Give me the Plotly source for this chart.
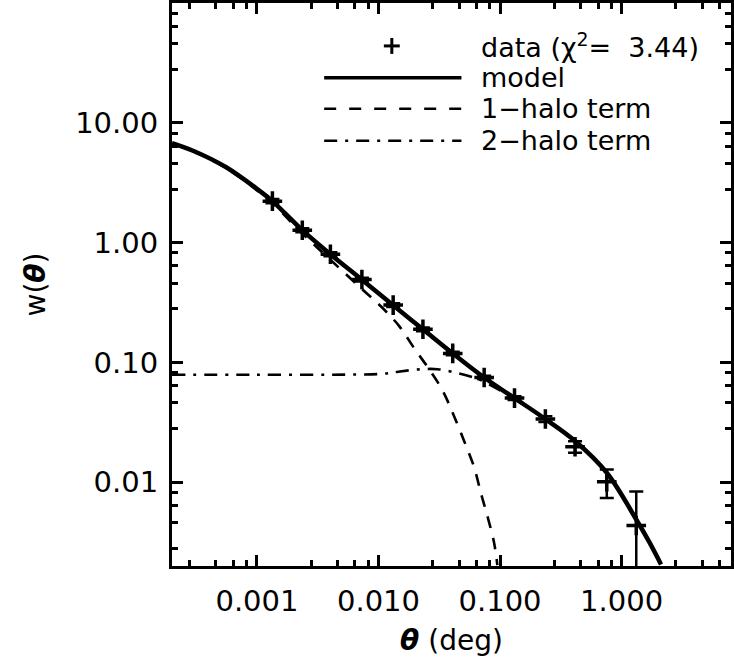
import plotly.graph_objects as go

# ---------------- data ----------------
theta_data = [0.00134, 0.00236, 0.00402, 0.0073, 0.0132, 0.0232, 0.0408,
              0.0740, 0.1315, 0.236, 0.414, 0.755, 1.32]
w_data = [2.22, 1.27, 0.80, 0.492, 0.301, 0.189, 0.119,
          0.0748, 0.0504, 0.0337, 0.0198, 0.0101, 0.00436]
w_err = [0.09, 0.05, 0.03, 0.018, 0.011, 0.007, 0.004,
         0.0025, 0.0017, 0.0018, 0.0022, 0.0027, 0.0040]

theta_model = [0.0002, 0.000298, 0.000558, 0.001044, 0.00134, 0.00236, 0.00402,
               0.0073, 0.0132, 0.0232, 0.0408, 0.074, 0.1315, 0.236, 0.414,
               0.755, 1.32, 1.70, 2.11]
w_model = [6.78, 5.85, 4.26, 2.72, 2.22, 1.27, 0.80,
           0.49, 0.30, 0.189, 0.119, 0.0748, 0.0504, 0.0337, 0.0221,
           0.0120, 0.00489, 0.00313, 0.00206]

theta_1h = [0.0002, 0.000298, 0.000558, 0.001044, 0.00134, 0.00236, 0.00402,
            0.0073, 0.0106, 0.0148, 0.0196, 0.0263, 0.0338, 0.0408, 0.0508,
            0.0614, 0.0695, 0.0787, 0.0893, 0.095]
w_1h = [6.70, 5.77, 4.18, 2.64, 2.14, 1.19, 0.72,
        0.41, 0.29, 0.201, 0.132, 0.0866, 0.0579, 0.0378, 0.0219,
        0.0132, 0.00816, 0.00521, 0.00313, 0.00203]

theta_2h = [0.0002, 0.001, 0.00569, 0.01055, 0.01452, 0.0218, 0.0307,
            0.0448, 0.0628, 0.074, 0.1315, 0.236, 0.414, 0.755, 1.32, 1.70, 2.11]
w_2h = [0.079, 0.079, 0.0792, 0.0802, 0.0836, 0.0876, 0.0878,
        0.0813, 0.0739, 0.0690, 0.0495, 0.0335, 0.0220, 0.0120, 0.00489, 0.00313, 0.00206]

x_tickvals = [0.001, 0.01, 0.1, 1.0]
x_ticktext = ["0.001", "0.010", "0.100", "1.000"]
y_tickvals = [0.01, 0.1, 1.0, 10.0]
y_ticktext = ["0.01", "0.10", "1.00", "10.00"]

legend_labels = ["data (\u03c7<sup>2</sup>=\u00a0 3.44)", "model", "1\u2212halo term", "2\u2212halo term"]

# minor tick positions (IDL style)
minor_mult = [2.8, 4.6, 6.4, 8.2]
x_minor = [m * 10 ** k for k in range(-4, 1) for m in minor_mult]
y_minor = [m * 10 ** k for k in range(-3, 2) for m in minor_mult]

FONT = "DejaVu Sans"
W, H = 734, 666
L, R, T, B = 172, 734, 2, 566

def px(x):
    return (x - L) / (R - L)

def py(y):
    return (B - y) / (B - T)

fig = go.Figure()

fig.add_trace(go.Scatter(x=theta_2h, y=w_2h, mode="lines", line_shape="spline",
                         line=dict(color="black", width=2.6, dash="13px,8px,3px,8px"),
                         showlegend=False))
fig.add_trace(go.Scatter(x=theta_1h, y=w_1h, mode="lines", line_shape="spline",
                         line=dict(color="black", width=2.6, dash="12px,10px"),
                         showlegend=False))
fig.add_trace(go.Scatter(x=theta_model, y=w_model, mode="lines", line_shape="spline",
                         line=dict(color="black", width=4.5),
                         showlegend=False))
fig.add_trace(go.Scatter(x=theta_data, y=w_data, mode="markers",
                         marker=dict(symbol="cross-thin", size=14, color="black",
                                     line=dict(color="black", width=3.5)),
                         error_y=dict(type="data", array=w_err, visible=True,
                                      color="black", thickness=2.5, width=7),
                         showlegend=False))

# ---------------- legend drawn by hand ----------------
shapes = []
cx, cy, hs = 393, 45, 8
shapes.append(dict(type="line", xref="paper", yref="paper",
                   x0=px(cx - hs), x1=px(cx + hs), y0=py(cy), y1=py(cy),
                   line=dict(color="black", width=3)))
shapes.append(dict(type="line", xref="paper", yref="paper",
                   x0=px(cx), x1=px(cx), y0=py(cy - hs), y1=py(cy + hs),
                   line=dict(color="black", width=3)))
leg_lines = [(77, "solid", 3.5), (108, "12px,13px", 2.6), (140, "13px,8px,3px,8px", 2.6)]
for yy, dash, wdt in leg_lines:
    shapes.append(dict(type="line", xref="paper", yref="paper",
                       x0=px(325), x1=px(463), y0=py(yy), y1=py(yy),
                       line=dict(color="black", width=wdt, dash=dash)))

annotations = []
for yy, txt in zip([45, 77, 108, 140], legend_labels):
    annotations.append(dict(xref="paper", yref="paper", x=px(481), y=py(yy),
                            text=txt, showarrow=False, xanchor="left", yanchor="middle",
                            font=dict(family=FONT, size=27, color="black")))

axis_common = dict(type="log", showgrid=False, zeroline=False,
                   showline=True, linecolor="black", linewidth=3, mirror="ticks",
                   ticks="inside", ticklen=11, tickwidth=2.5, tickcolor="black",
                   tickfont=dict(family=FONT, size=29, color="black"))

fig.update_xaxes(**axis_common, range=[-3.699, 0.9],
                 tickmode="array", tickvals=x_tickvals, ticktext=x_ticktext,
                 ticklabelstandoff=7,
                 minor=dict(tickmode="array", tickvals=x_minor, ticks="inside",
                            ticklen=6, tickwidth=2.5, tickcolor="black"),
                 title=dict(text="<b><i>\u03b8</i></b> (deg)",
                            font=dict(family=FONT, size=28, color="black"), standoff=14))
fig.update_yaxes(**axis_common, range=[-2.699, 2.0],
                 tickmode="array", tickvals=y_tickvals, ticktext=y_ticktext,
                 ticklabelstandoff=5,
                 minor=dict(tickmode="array", tickvals=y_minor, ticks="inside",
                            ticklen=6, tickwidth=2.5, tickcolor="black"),
                 title=dict(text="w(<b><i>\u03b8</i></b>)",
                            font=dict(family=FONT, size=28, color="black"), standoff=22))

fig.update_layout(width=W, height=H, margin=dict(l=L, r=W - R, t=T, b=H - B),
                  plot_bgcolor="white", paper_bgcolor="white",
                  shapes=shapes, annotations=annotations, showlegend=False)

fig.write_html("out.html")
